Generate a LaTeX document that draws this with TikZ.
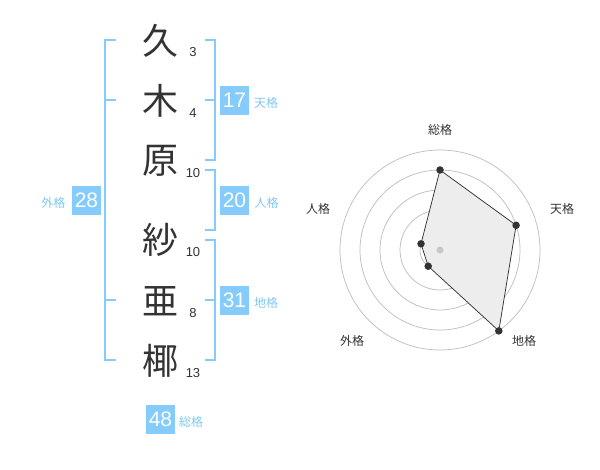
\documentclass[tikz,border=0pt]{standalone}
\usepackage{fontspec}
\usetikzlibrary{calc}
\setmainfont{Liberation Sans}
\newfontfamily\cjk{Noto Sans CJK JP}
\definecolor{sky}{HTML}{85CCFC}
\definecolor{skytext}{HTML}{80C8F4}
\definecolor{ink}{HTML}{333333}
\begin{document}
\begin{tikzpicture}[x=1pt,y=-1pt,
  kanji/.style={inner sep=0pt,font=\cjk\fontsize{36}{36}\selectfont,text=ink},
  strokes/.style={inner sep=0pt,font=\fontsize{13}{13}\selectfont,text=ink},
  brk/.style={draw=sky,line width=2pt},
  valbox/.style={fill=sky,minimum width=29pt,minimum height=29pt,inner sep=0pt,text=white,font=\fontsize{21}{21}\selectfont},
  kaku/.style={inner sep=0pt,font=\cjk\fontsize{12}{12}\selectfont,text=skytext},
  ring/.style={draw=black!25,line width=0.75pt},
  rlabel/.style={inner sep=0pt,font=\cjk\fontsize{12}{12}\selectfont,text=ink},
  dot/.style={circle,fill=ink,inner sep=0pt,minimum size=7.5pt}
]
\useasboundingbox (0,0) rectangle (600,470);
% characters
\node[kanji] (k1) at (160,41) {久};
\node[kanji] (k2) at (160,101) {木};
\node[kanji] (k3) at (160,161) {原};
\node[kanji] (k4) at (160,240) {紗};
\node[kanji] (k5) at (160,301) {亜};
\node[kanji] (k6) at (160,361) {椰};
\node[strokes] (s1) at (193,52.5) {3};
\node[strokes] (s2) at (193,113) {4};
\node[strokes] (s3) at (193,173) {10};
\node[strokes] (s4) at (193,252.5) {10};
\node[strokes] (s5) at (193,313) {8};
\node[strokes] (s6) at (193,373) {13};
% brackets
\draw[brk] (116,40) -- (105,40) -- (105,360) -- (116,360);
\draw[brk] (105,100) -- (116,100);
\draw[brk] (105,300) -- (116,300);
\draw[brk] (205,40) -- (214.5,40) -- (214.5,160) -- (205,160);
\draw[brk] (205,100) -- (214.5,100);
\draw[brk] (205,170) -- (214.5,170) -- (214.5,230) -- (205,230);
\draw[brk] (205,240) -- (214.5,240) -- (214.5,360) -- (205,360);
\draw[brk] (205,300) -- (214.5,300);
% value boxes
\node[valbox] (v1) at (86.5,200.5) {28};
\node[kaku] (l1) at (53.5,203) {外格};
\node[valbox] (v2) at (234.5,100.5) {17};
\node[kaku] (l2) at (266,103) {天格};
\node[valbox] (v3) at (234.5,200.5) {20};
\node[kaku] (l3) at (266.5,203) {人格};
\node[valbox] (v4) at (234.5,300.5) {31};
\node[kaku] (l4) at (266,303) {地格};
\node[valbox] (v5) at (160.5,419.5) {48};
\node[kaku] (l5) at (191,422) {総格};
% radar
\coordinate (c) at (440,250);
\foreach \r in {20,40,60,80,100} \draw[ring] (c) circle[radius=\r];
\coordinate (pA) at ($(c)+(0,-80)$);
\coordinate (pB) at ($(c)+(76.1,-24.7)$);
\coordinate (pC) at ($(c)+(58.8,80.9)$);
\coordinate (pD) at ($(c)+(-11.8,16.2)$);
\coordinate (pE) at ($(c)+(-19.0,-6.2)$);
\filldraw[fill=black!7,draw=ink,line width=0.75pt] (pA) -- (pB) -- (pC) -- (pD) -- (pE) -- cycle;
\node[circle,fill=black!22,inner sep=0pt,minimum size=7pt] (cd) at (c) {};
\foreach \p in {pA,pB,pC,pD,pE} \node[dot] at (\p) {};
\node[rlabel] (r1) at (440,130) {総格};
\node[rlabel] (r2) at (562,209) {天格};
\node[rlabel] (r3) at (524,341) {地格};
\node[rlabel] (r4) at (352,341) {外格};
\node[rlabel] (r5) at (318,209) {人格};
\end{tikzpicture}
\end{document}
